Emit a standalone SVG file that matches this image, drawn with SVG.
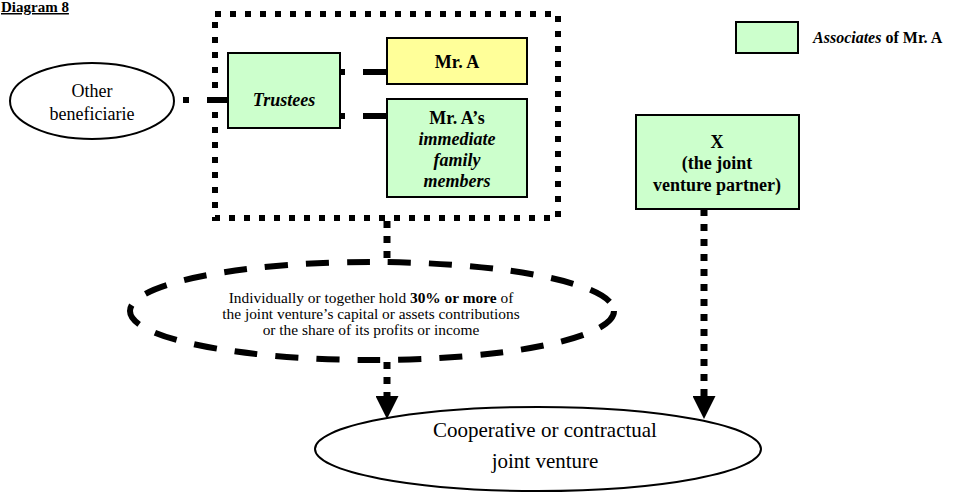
<svg xmlns="http://www.w3.org/2000/svg" width="961" height="492" viewBox="0 0 961 492">
  <style>
    text { font-family: "Liberation Serif", "Times New Roman", serif; fill: #000; }
    .box { stroke: #000; stroke-width: 2; }
    .green { fill: #CCFFCC; }
    .yellow { fill: #FFFF99; }
    .oval { fill: #fff; stroke: #000; stroke-width: 2; }
    .b { font-weight: bold; }
    .bi { font-weight: bold; font-style: italic; }
    .dot { fill: none; stroke: #000; stroke-width: 7; stroke-dasharray: 7 8; }
    .frame { fill: none; stroke: #000; stroke-width: 6; stroke-dasharray: 6 9; }
    .dash { fill: none; stroke: #000; stroke-width: 6; stroke-dasharray: 23 18; }
  </style>
  <defs>
    <marker id="arrow" viewBox="0 0 23 23" refX="0" refY="11.5" markerWidth="23" markerHeight="23" markerUnits="userSpaceOnUse" orient="auto">
      <path d="M0,0 L23,11.5 L0,23 Z" fill="#000"/>
    </marker>
  </defs>
  <rect width="961" height="492" fill="#fff"/>

  <text id="title" x="1" y="12" font-size="15" class="b" text-decoration="underline">Diagram 8</text>

  <g id="connectors">
    <path d="M183,100 H228" fill="none" stroke="#000" stroke-width="6" stroke-dasharray="6 18 21"/>
    <path d="M340,72 H387" fill="none" stroke="#000" stroke-width="6" stroke-dasharray="5 18 24"/>
    <path d="M340,116 H387" fill="none" stroke="#000" stroke-width="6" stroke-dasharray="5 18 24"/>
    <path class="dot" d="M387,221 V262"/>
    <path class="dot" d="M387,362 V396" marker-end="url(#arrow)"/>
    <path class="dot" d="M704,209 V396" marker-end="url(#arrow)"/>
  </g>

  <g id="trust-group">
    <rect class="frame" x="215" y="14" width="343" height="204"/>
  </g>

  <g id="other-beneficiaries">
    <ellipse class="oval" cx="92" cy="101" rx="82" ry="38"/>
    <text x="92" y="97" font-size="18" text-anchor="middle">Other</text>
    <text x="92" y="120" font-size="18" text-anchor="middle">beneficiarie</text>
  </g>

  <g id="trustees">
    <rect class="box green" x="228" y="53" width="112" height="75"/>
    <text x="284" y="106" font-size="18" class="bi" text-anchor="middle">Trustees</text>
  </g>

  <g id="mr-a">
    <rect class="box yellow" x="387" y="38" width="140" height="46"/>
    <text x="457" y="68" font-size="18" class="b" text-anchor="middle">Mr. A</text>
  </g>

  <g id="family">
    <rect class="box green" x="387" y="99" width="140" height="98"/>
    <text x="457" y="124" font-size="18" class="b" text-anchor="middle">Mr. A’s</text>
    <text x="457" y="145" font-size="18" class="bi" text-anchor="middle">immediate</text>
    <text x="457" y="166" font-size="18" class="bi" text-anchor="middle">family</text>
    <text x="457" y="187" font-size="18" class="bi" text-anchor="middle">members</text>
  </g>

  <g id="legend">
    <rect class="box green" x="736" y="22" width="62" height="31"/>
    <text x="813" y="43" font-size="16" class="b"><tspan font-style="italic">Associates</tspan> of Mr. A</text>
  </g>

  <g id="x-partner">
    <rect class="box green" x="636" y="115" width="163" height="94"/>
    <text x="717" y="148" font-size="18" class="b" text-anchor="middle">X</text>
    <text x="717" y="169" font-size="18" class="b" text-anchor="middle">(the joint</text>
    <text x="717" y="191" font-size="18" class="b" text-anchor="middle">venture partner)</text>
  </g>

  <g id="holding">
    <ellipse class="dash" cx="372" cy="311" rx="242" ry="49"/>
    <text x="371" y="303" font-size="15.4" text-anchor="middle">Individually or together hold <tspan font-weight="bold">30% or more</tspan> of</text>
    <text x="371" y="319" font-size="15.4" text-anchor="middle">the joint venture’s capital or assets contributions</text>
    <text x="371" y="335" font-size="15.4" text-anchor="middle">or the share of its profits or income</text>
  </g>

  <g id="joint-venture">
    <ellipse class="oval" cx="538" cy="449" rx="223" ry="42"/>
    <text x="545" y="437" font-size="21" text-anchor="middle">Cooperative or contractual</text>
    <text x="545" y="468" font-size="21" text-anchor="middle">joint venture</text>
  </g>
</svg>
